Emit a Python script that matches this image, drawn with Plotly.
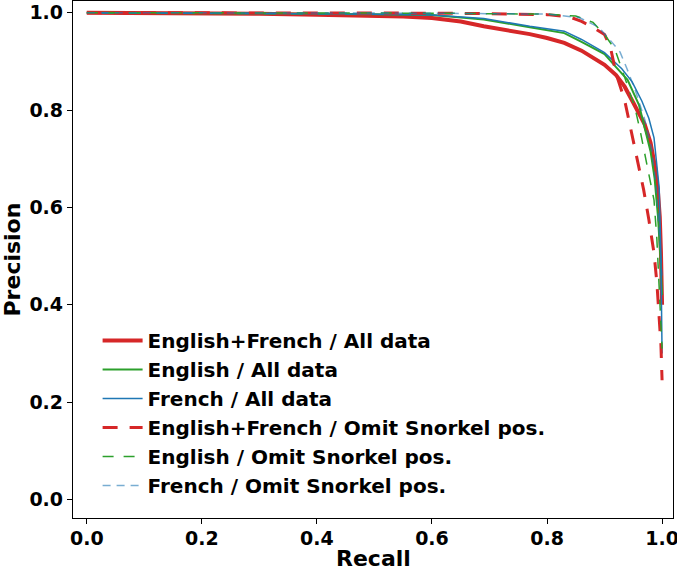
import plotly.graph_objects as go

RED = "#d62728"
GREEN = "#2ca02c"
BLUE = "#1f77b4"

# English+French / All data
ef_all_r = [0, 0.1, 0.2, 0.3, 0.4, 0.5, 0.55, 0.6, 0.65, 0.69, 0.73, 0.77, 0.8, 0.83,
            0.86, 0.88, 0.9, 0.92, 0.935, 0.95, 0.96, 0.97, 0.98, 0.988, 0.993, 0.996,
            0.998, 1.0]
ef_all_p = [1.0, 1.0, 0.999, 0.998, 0.996, 0.994, 0.992, 0.989, 0.982, 0.972, 0.965,
            0.956, 0.948, 0.938, 0.922, 0.908, 0.893, 0.872, 0.848, 0.815, 0.792, 0.77,
            0.733, 0.682, 0.63, 0.58, 0.51, 0.40]

# English / All data
en_all_r = [0, 0.2, 0.4, 0.5, 0.6, 0.69, 0.77, 0.83, 0.86, 0.9, 0.92, 0.94, 0.96, 0.97,
            0.98, 0.987, 0.993, 0.997, 1.0]
en_all_p = [1.0, 0.999, 0.998, 0.997, 0.995, 0.986, 0.97, 0.958, 0.94, 0.915, 0.888,
            0.862, 0.81, 0.763, 0.715, 0.66, 0.58, 0.5, 0.42]

# French / All data
fr_all_r = [0, 0.2, 0.4, 0.5, 0.6, 0.69, 0.77, 0.83, 0.86, 0.9, 0.93, 0.948, 0.965,
            0.977, 0.986, 0.991, 0.995, 0.998, 1.0]
fr_all_p = [1.0, 0.999, 0.998, 0.997, 0.995, 0.988, 0.972, 0.962, 0.945, 0.918, 0.885,
            0.858, 0.818, 0.783, 0.743, 0.69, 0.64, 0.5, 0.30]

# English+French / Omit Snorkel pos.
ef_om_r = [0, 0.2, 0.4, 0.6, 0.7, 0.8, 0.84, 0.86, 0.88, 0.9, 0.91, 0.92, 0.935, 0.948,
           0.957, 0.968, 0.977, 0.986, 0.991, 0.995, 0.998, 1.0]
ef_om_p = [1.0, 1.0, 1.0, 0.999, 0.998, 0.996, 0.991, 0.982, 0.97, 0.955, 0.93, 0.875,
           0.82, 0.75, 0.696, 0.636, 0.575, 0.506, 0.445, 0.379, 0.318, 0.245]

# English / Omit Snorkel pos.
en_om_r = [0, 0.2, 0.4, 0.6, 0.7, 0.8, 0.85, 0.88, 0.9, 0.918, 0.936, 0.953, 0.962,
           0.97, 0.977, 0.986, 0.991, 0.995, 0.998, 1.0]
en_om_p = [1.0, 1.0, 1.0, 0.999, 0.998, 0.997, 0.993, 0.98, 0.955, 0.925, 0.864, 0.804,
           0.757, 0.709, 0.668, 0.615, 0.534, 0.445, 0.364, 0.31]

# French / Omit Snorkel pos.
fr_om_r = [0, 0.2, 0.4, 0.6, 0.7, 0.8, 0.856, 0.89, 0.913, 0.927, 0.939, 0.955, 0.97,
           0.982, 0.99, 0.995, 1.0]
fr_om_p = [1.0, 1.0, 1.0, 0.999, 0.998, 0.997, 0.99, 0.97, 0.939, 0.919, 0.885, 0.835,
           0.78, 0.72, 0.64, 0.56, 0.46]

x_ticks = [0.0, 0.2, 0.4, 0.6, 0.8, 1.0]
y_ticks = [0.0, 0.2, 0.4, 0.6, 0.8, 1.0]

series = [
    ("English+French / All data", ef_all_r, ef_all_p, RED, 4, "solid"),
    ("English / All data", en_all_r, en_all_p, GREEN, 2, "solid"),
    ("French / All data", fr_all_r, fr_all_p, BLUE, 1.5, "solid"),
    ("English+French / Omit Snorkel pos.", ef_om_r, ef_om_p, RED, 3, "15px,12px"),
    ("English / Omit Snorkel pos.", en_om_r, en_om_p, GREEN, 1.5, "11px,10px"),
    ("French / Omit Snorkel pos.", fr_om_r, fr_om_p, "rgba(31,119,180,0.6)", 1.5, "8px,6px"),
]

fig = go.Figure()
for name, r, p, color, width, dash in series:
    fig.add_trace(go.Scatter(
        x=r, y=p, mode="lines", name=name,
        line=dict(color=color, width=width, dash=dash),
    ))

font = dict(family="DejaVu Sans", color="black", weight="bold")

axis_common = dict(
    showgrid=False, zeroline=False, showline=True, linecolor="black", linewidth=1.3,
    mirror=True, ticks="outside", ticklen=5, tickwidth=1.2, tickcolor="black",
    tickfont=dict(size=19, **font), tickformat=".1f", automargin=False,
    ticklabeloverflow="allow",
)

fig.update_xaxes(range=[-0.024, 1.019], tickvals=x_ticks, ticklabelstandoff=-2,
                 **axis_common)
fig.update_yaxes(range=[-0.038, 1.024], tickvals=y_ticks, **axis_common)

# axis titles as annotations for exact placement
fig.add_annotation(text="Recall", xref="paper", yref="paper", x=0.5, y=0,
                   xanchor="center", yanchor="middle", yshift=-40, showarrow=False,
                   font=dict(size=22, **font))
fig.add_annotation(text="Precision", xref="paper", yref="paper", x=0, y=0.5,
                   xanchor="center", yanchor="middle", xshift=-61, textangle=-90,
                   showarrow=False, font=dict(size=22, **font))

fig.update_layout(
    width=677, height=571,
    margin=dict(l=73, r=4, t=1, b=53),
    plot_bgcolor="white", paper_bgcolor="white",
    showlegend=True,
    legend=dict(x=0.041, y=0.381, xanchor="left", yanchor="top",
                bgcolor="rgba(0,0,0,0)", font=dict(size=20, **font),
                itemwidth=40),
)

# page body has a default 8px margin; drop it so the figure fills the window
fig.write_html("out.html", config={"displayModeBar": False},
               post_script="document.body.style.margin='0px';")
